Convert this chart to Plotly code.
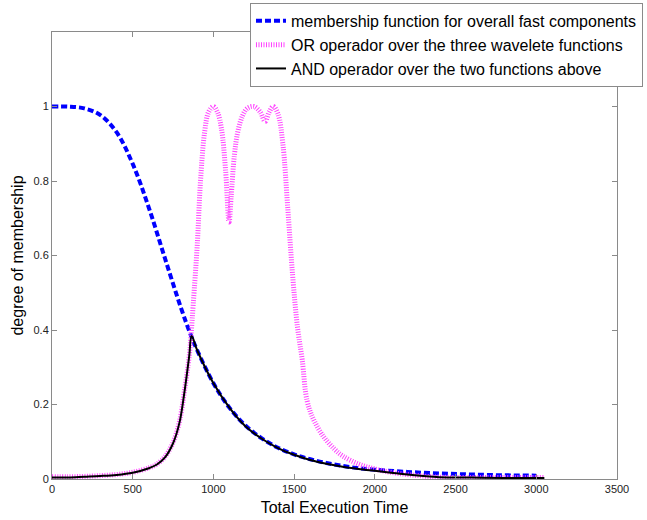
import plotly.graph_objects as go

# membership function for overall fast components (blue)
blue_x = [0, 100, 200, 300, 400, 500, 600, 700, 800, 861, 900, 1000, 1100, 1200,
          1300, 1400, 1500, 1600, 1700, 1800, 1900, 2000, 2200, 2400, 2600, 2800, 3000]
blue_y = [1.0, 0.9997, 0.995, 0.977, 0.931, 0.846, 0.728, 0.592, 0.458, 0.385, 0.345,
          0.257, 0.191, 0.143, 0.109, 0.084, 0.066, 0.053, 0.043, 0.035, 0.029, 0.025,
          0.019, 0.015, 0.012, 0.010, 0.009]

# OR operador over the three wavelete functions (magenta)
mag_x = [0, 100, 200, 300, 400, 500, 600, 650, 700, 750, 790, 820, 850, 861, 875, 900,
         920, 945, 970, 1000, 1025, 1050, 1075, 1097, 1110, 1130, 1150, 1180, 1210, 1250,
         1290, 1320, 1345, 1370, 1400, 1430, 1460, 1490, 1520, 1550, 1580, 1620, 1680,
         1750, 1800, 1900, 2000, 2100, 2200, 2300, 2400, 2600, 2800, 3050]
mag_y = [0.006, 0.006, 0.007, 0.009, 0.012, 0.018, 0.030, 0.040, 0.060, 0.098, 0.155,
         0.235, 0.33, 0.385, 0.47, 0.63, 0.80, 0.93, 0.985, 1.0, 0.985, 0.94, 0.83, 0.69,
         0.76, 0.87, 0.93, 0.975, 0.995, 1.0, 0.985, 0.96, 0.985, 1.0, 0.98, 0.90, 0.73,
         0.55, 0.41, 0.32, 0.21, 0.16, 0.115, 0.08, 0.062, 0.040, 0.027, 0.018, 0.012,
         0.008, 0.005, 0.004, 0.004, 0.004]

# AND operador over the two functions above (black)
and_x = [0, 100, 200, 300, 400, 500, 600, 650, 700, 750, 790, 820, 850, 865, 900, 1000,
         1100, 1200, 1300, 1400, 1500, 1600, 1700, 1800, 1900, 2000, 2100, 2200, 2300,
         2400, 2600, 2800, 3050]
and_y = [0.004, 0.004, 0.006, 0.008, 0.011, 0.017, 0.029, 0.039, 0.058, 0.096, 0.152,
         0.232, 0.33, 0.384, 0.345, 0.257, 0.191, 0.141, 0.108, 0.083, 0.065, 0.051,
         0.041, 0.033, 0.027, 0.022, 0.017, 0.012, 0.008, 0.005, 0.004, 0.003, 0.003]

x_ticks = [0, 500, 1000, 1500, 2000, 2500, 3000, 3500]
y_ticks = [0, 0.2, 0.4, 0.6, 0.8, 1]
y_tick_text = ["0", "0.2", "0.4", "0.6", "0.8", "1"]

fig = go.Figure()
fig.add_trace(go.Scatter(x=blue_x, y=blue_y, mode="lines",
                         name="membership function for overall fast components",
                         line=dict(color="#0000FF", width=4, dash="6px,3px", shape="spline")))
fig.add_trace(go.Scatter(x=mag_x, y=mag_y, mode="lines",
                         name="OR operador over the three wavelete functions",
                         line=dict(color="#FF44FF", width=5, dash="1px,1.5px", shape="spline")))
fig.add_trace(go.Scatter(x=and_x, y=and_y, mode="lines",
                         name="AND operador over the two functions above",
                         line=dict(color="#000000", width=2, shape="spline")))

axis_common = dict(
    showline=True, linecolor="#8a8a8a", linewidth=1, mirror="ticks",
    ticks="inside", ticklen=5, tickcolor="#8a8a8a", showgrid=False, zeroline=False,
    tickfont=dict(family="Liberation Sans, Arial, sans-serif", size=11, color="#222"),
)

fig.update_layout(
    width=647, height=520,
    margin=dict(l=52, r=30, t=32, b=41, autoexpand=False),
    paper_bgcolor="white", plot_bgcolor="white",
    font=dict(family="Liberation Sans, Arial, sans-serif", color="#000"),
    xaxis=dict(range=[0, 3500], tickvals=x_ticks,
               title=dict(text="Total Execution Time", font=dict(size=16), standoff=7),
               **axis_common),
    yaxis=dict(range=[0, 1.2], tickvals=y_ticks, ticktext=y_tick_text,
               title=dict(text="degree of membership", font=dict(size=16), standoff=5),
               **axis_common),
    legend=dict(x=1.046, xanchor="right", y=1.065, yanchor="top",
                bgcolor="white", bordercolor="#8a8a8a", borderwidth=1,
                font=dict(size=16, color="#000"), tracegroupgap=0),
    showlegend=True,
)

fig.write_html("out.html", config={"displayModeBar": False},
               post_script="document.body.style.margin='0';document.body.style.padding='0';")
